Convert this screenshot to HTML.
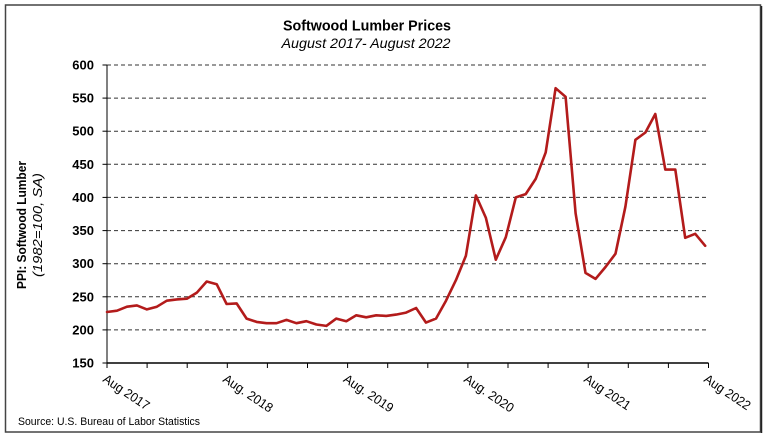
<!DOCTYPE html>
<html>
<head>
<meta charset="utf-8">
<style>
html,body{margin:0;padding:0;background:#fff;}
svg{display:block;}
text{font-family:"Liberation Sans",Arial,sans-serif;fill:#000;}
</style>
</head>
<body>
<svg width="767" height="436" viewBox="0 0 767 436" xmlns="http://www.w3.org/2000/svg">
<rect x="0" y="0" width="767" height="436" fill="#fff"/>
<rect x="5.5" y="5" width="755" height="427" fill="none" stroke="#444" stroke-width="1.5"/>
<line x1="761.5" y1="6" x2="761.5" y2="433" stroke="#222" stroke-width="1.5"/>

<text x="367" y="30.5" text-anchor="middle" font-size="15" font-weight="bold" textLength="168" lengthAdjust="spacingAndGlyphs">Softwood Lumber Prices</text>
<text x="366" y="48" text-anchor="middle" font-size="14" font-style="italic" textLength="169" lengthAdjust="spacingAndGlyphs">August 2017- August 2022</text>

<text transform="translate(26,225) rotate(-90)" text-anchor="middle" font-size="13" font-weight="bold" textLength="128" lengthAdjust="spacingAndGlyphs">PPI: Softwood Lumber</text>
<text transform="translate(42,225) rotate(-90)" text-anchor="middle" font-size="13" font-style="italic" textLength="104" lengthAdjust="spacingAndGlyphs">(1982=100, SA)</text>

<g stroke="#333" stroke-width="1" stroke-dasharray="4,3">
<line x1="107" y1="65" x2="708" y2="65"/>
<line x1="107" y1="98.1" x2="708" y2="98.1"/>
<line x1="107" y1="131.2" x2="708" y2="131.2"/>
<line x1="107" y1="164.3" x2="708" y2="164.3"/>
<line x1="107" y1="197.4" x2="708" y2="197.4"/>
<line x1="107" y1="230.6" x2="708" y2="230.6"/>
<line x1="107" y1="263.7" x2="708" y2="263.7"/>
<line x1="107" y1="296.8" x2="708" y2="296.8"/>
<line x1="107" y1="329.9" x2="708" y2="329.9"/>
</g>

<g stroke="#000" stroke-width="1">
<line x1="107" y1="65" x2="107" y2="363"/>
<line x1="107" y1="363" x2="708.5" y2="363" stroke-width="1.5"/>
<line x1="102.5" y1="65" x2="107" y2="65"/>
<line x1="102.5" y1="98.1" x2="107" y2="98.1"/>
<line x1="102.5" y1="131.2" x2="107" y2="131.2"/>
<line x1="102.5" y1="164.3" x2="107" y2="164.3"/>
<line x1="102.5" y1="197.4" x2="107" y2="197.4"/>
<line x1="102.5" y1="230.6" x2="107" y2="230.6"/>
<line x1="102.5" y1="263.7" x2="107" y2="263.7"/>
<line x1="102.5" y1="296.8" x2="107" y2="296.8"/>
<line x1="102.5" y1="329.9" x2="107" y2="329.9"/>
<line x1="102.5" y1="363" x2="107" y2="363"/>
<line x1="107" y1="363" x2="107" y2="368"/>
<line x1="147.1" y1="363" x2="147.1" y2="368"/>
<line x1="187.2" y1="363" x2="187.2" y2="368"/>
<line x1="227.3" y1="363" x2="227.3" y2="368"/>
<line x1="267.4" y1="363" x2="267.4" y2="368"/>
<line x1="307.5" y1="363" x2="307.5" y2="368"/>
<line x1="347.6" y1="363" x2="347.6" y2="368"/>
<line x1="387.7" y1="363" x2="387.7" y2="368"/>
<line x1="427.8" y1="363" x2="427.8" y2="368"/>
<line x1="467.9" y1="363" x2="467.9" y2="368"/>
<line x1="508" y1="363" x2="508" y2="368"/>
<line x1="548.1" y1="363" x2="548.1" y2="368"/>
<line x1="588.2" y1="363" x2="588.2" y2="368"/>
<line x1="628.3" y1="363" x2="628.3" y2="368"/>
<line x1="668.4" y1="363" x2="668.4" y2="368"/>
<line x1="708.5" y1="363" x2="708.5" y2="368"/>
</g>

<g font-size="13" font-weight="bold" text-anchor="end">
<text x="94" y="69.5">600</text>
<text x="94" y="102.6">550</text>
<text x="94" y="135.7">500</text>
<text x="94" y="168.8">450</text>
<text x="94" y="201.9">400</text>
<text x="94" y="235.1">350</text>
<text x="94" y="268.2">300</text>
<text x="94" y="301.3">250</text>
<text x="94" y="334.4">200</text>
<text x="94" y="367.5">150</text>
</g>

<g font-size="13">
<text transform="translate(102,381) rotate(34)" textLength="53" lengthAdjust="spacingAndGlyphs">Aug 2017</text>
<text transform="translate(222,381) rotate(34)" textLength="57" lengthAdjust="spacingAndGlyphs">Aug. 2018</text>
<text transform="translate(342.5,381) rotate(34)" textLength="57" lengthAdjust="spacingAndGlyphs">Aug. 2019</text>
<text transform="translate(463,381) rotate(34)" textLength="57" lengthAdjust="spacingAndGlyphs">Aug. 2020</text>
<text transform="translate(583,381) rotate(34)" textLength="53" lengthAdjust="spacingAndGlyphs">Aug 2021</text>
<text transform="translate(703,381) rotate(34)" textLength="53" lengthAdjust="spacingAndGlyphs">Aug 2022</text>
</g>

<text x="18" y="425" font-size="11" textLength="182" lengthAdjust="spacingAndGlyphs">Source: U.S. Bureau of Labor Statistics</text>

<polyline fill="none" stroke="#B31B1B" stroke-width="2.6" stroke-linejoin="round" stroke-linecap="round" points="
107,312.0 117.0,310.7 127.0,306.7 136.9,305.4 146.9,309.4 156.9,306.7 166.8,300.7 176.8,299.4 186.8,298.7 196.7,292.8 206.7,281.5 216.7,284.2 226.6,304.0 236.6,303.4 246.6,318.6 256.6,321.9 266.5,323.2 276.5,323.2 286.5,319.9 296.4,323.2 306.4,321.2 316.4,324.5 326.3,325.9 336.3,318.6 346.3,321.2 356.3,315.3 366.2,317.3 376.2,315.3 386.2,315.9 396.1,314.6 406.1,312.6 416.1,308.0 426.0,322.6 436.0,318.6 446.0,300.7 455.9,280.2 465.9,255.7 475.9,195.4 485.9,217.9 495.8,259.7 505.8,237.2 515.8,197.4 525.7,194.1 535.7,178.9 545.7,152.4 555.6,88.2 565.6,96.8 575.6,213.3 585.5,272.9 595.5,278.9 605.5,267.0 615.5,253.7 625.4,206.7 635.4,139.8 645.4,132.5 655.3,114.0 665.3,169.6 675.3,169.6 685.2,237.8 695.2,233.8 705.2,245.8"/>
</svg>
</body>
</html>
